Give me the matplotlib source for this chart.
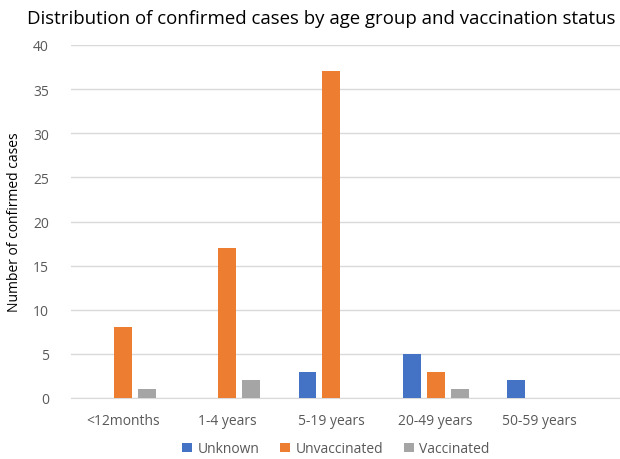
import numpy as np
import matplotlib.pyplot as plt

plt.rcParams['font.family'] = ['Open Sans', 'DejaVu Sans']

age_groups = ["<12months", "1-4 years", "5-19 years", "20-49 years", "50-59 years"]
unknown = [0, 0, 3, 5, 2]
unvaccinated = [8, 17, 37, 3, 0]
vaccinated = [1, 2, 0, 1, 0]
yticks = [0, 5, 10, 15, 20, 25, 30, 35, 40]

series = [
    ("Unknown", unknown, "#4472C4"),
    ("Unvaccinated", unvaccinated, "#ED7D31"),
    ("Vaccinated", vaccinated, "#A5A5A5"),
]

fig = plt.figure(figsize=(6.2, 4.6), dpi=100)
ax = fig.add_axes([71 / 620, 1 - 399 / 460, 549 / 620, 353 / 460])

x = np.arange(len(age_groups))
step = 0.23
width = 0.172
for i, (name, vals, color) in enumerate(series):
    ax.bar(x + (i - 1) * step, vals, width, color=color, label=name, zorder=3)

ax.set_xlim(-0.5, 4.77)
ax.set_ylim(0, 40)
ax.set_yticks(yticks)
ax.set_xticks(x)
ax.set_xticklabels(age_groups)
ax.grid(axis="y", color="#D9D9D9", linewidth=1, zorder=0)
for s in ["top", "right", "left"]:
    ax.spines[s].set_visible(False)
ax.spines["bottom"].set_color("#D9D9D9")
ax.tick_params(length=0, colors="#595959", labelsize=10)
ax.tick_params(axis="x", pad=11)
ax.tick_params(axis="y", pad=16)
ax.set_ylabel("Number of confirmed cases", fontsize=10, color="black", labelpad=8)

fig.text(0.518, 0.958, "Distribution of confirmed cases by age group and vaccination status",
         ha="center", va="center", fontsize=13.4)

fig.legend(loc="center", bbox_to_anchor=(0.542, 0.022), ncol=3, frameon=False,
           fontsize=10, handlelength=0.7, handleheight=0.7, columnspacing=1.5,
           handletextpad=0.4, labelcolor="#595959")

fig.savefig("out.png", dpi=100)
